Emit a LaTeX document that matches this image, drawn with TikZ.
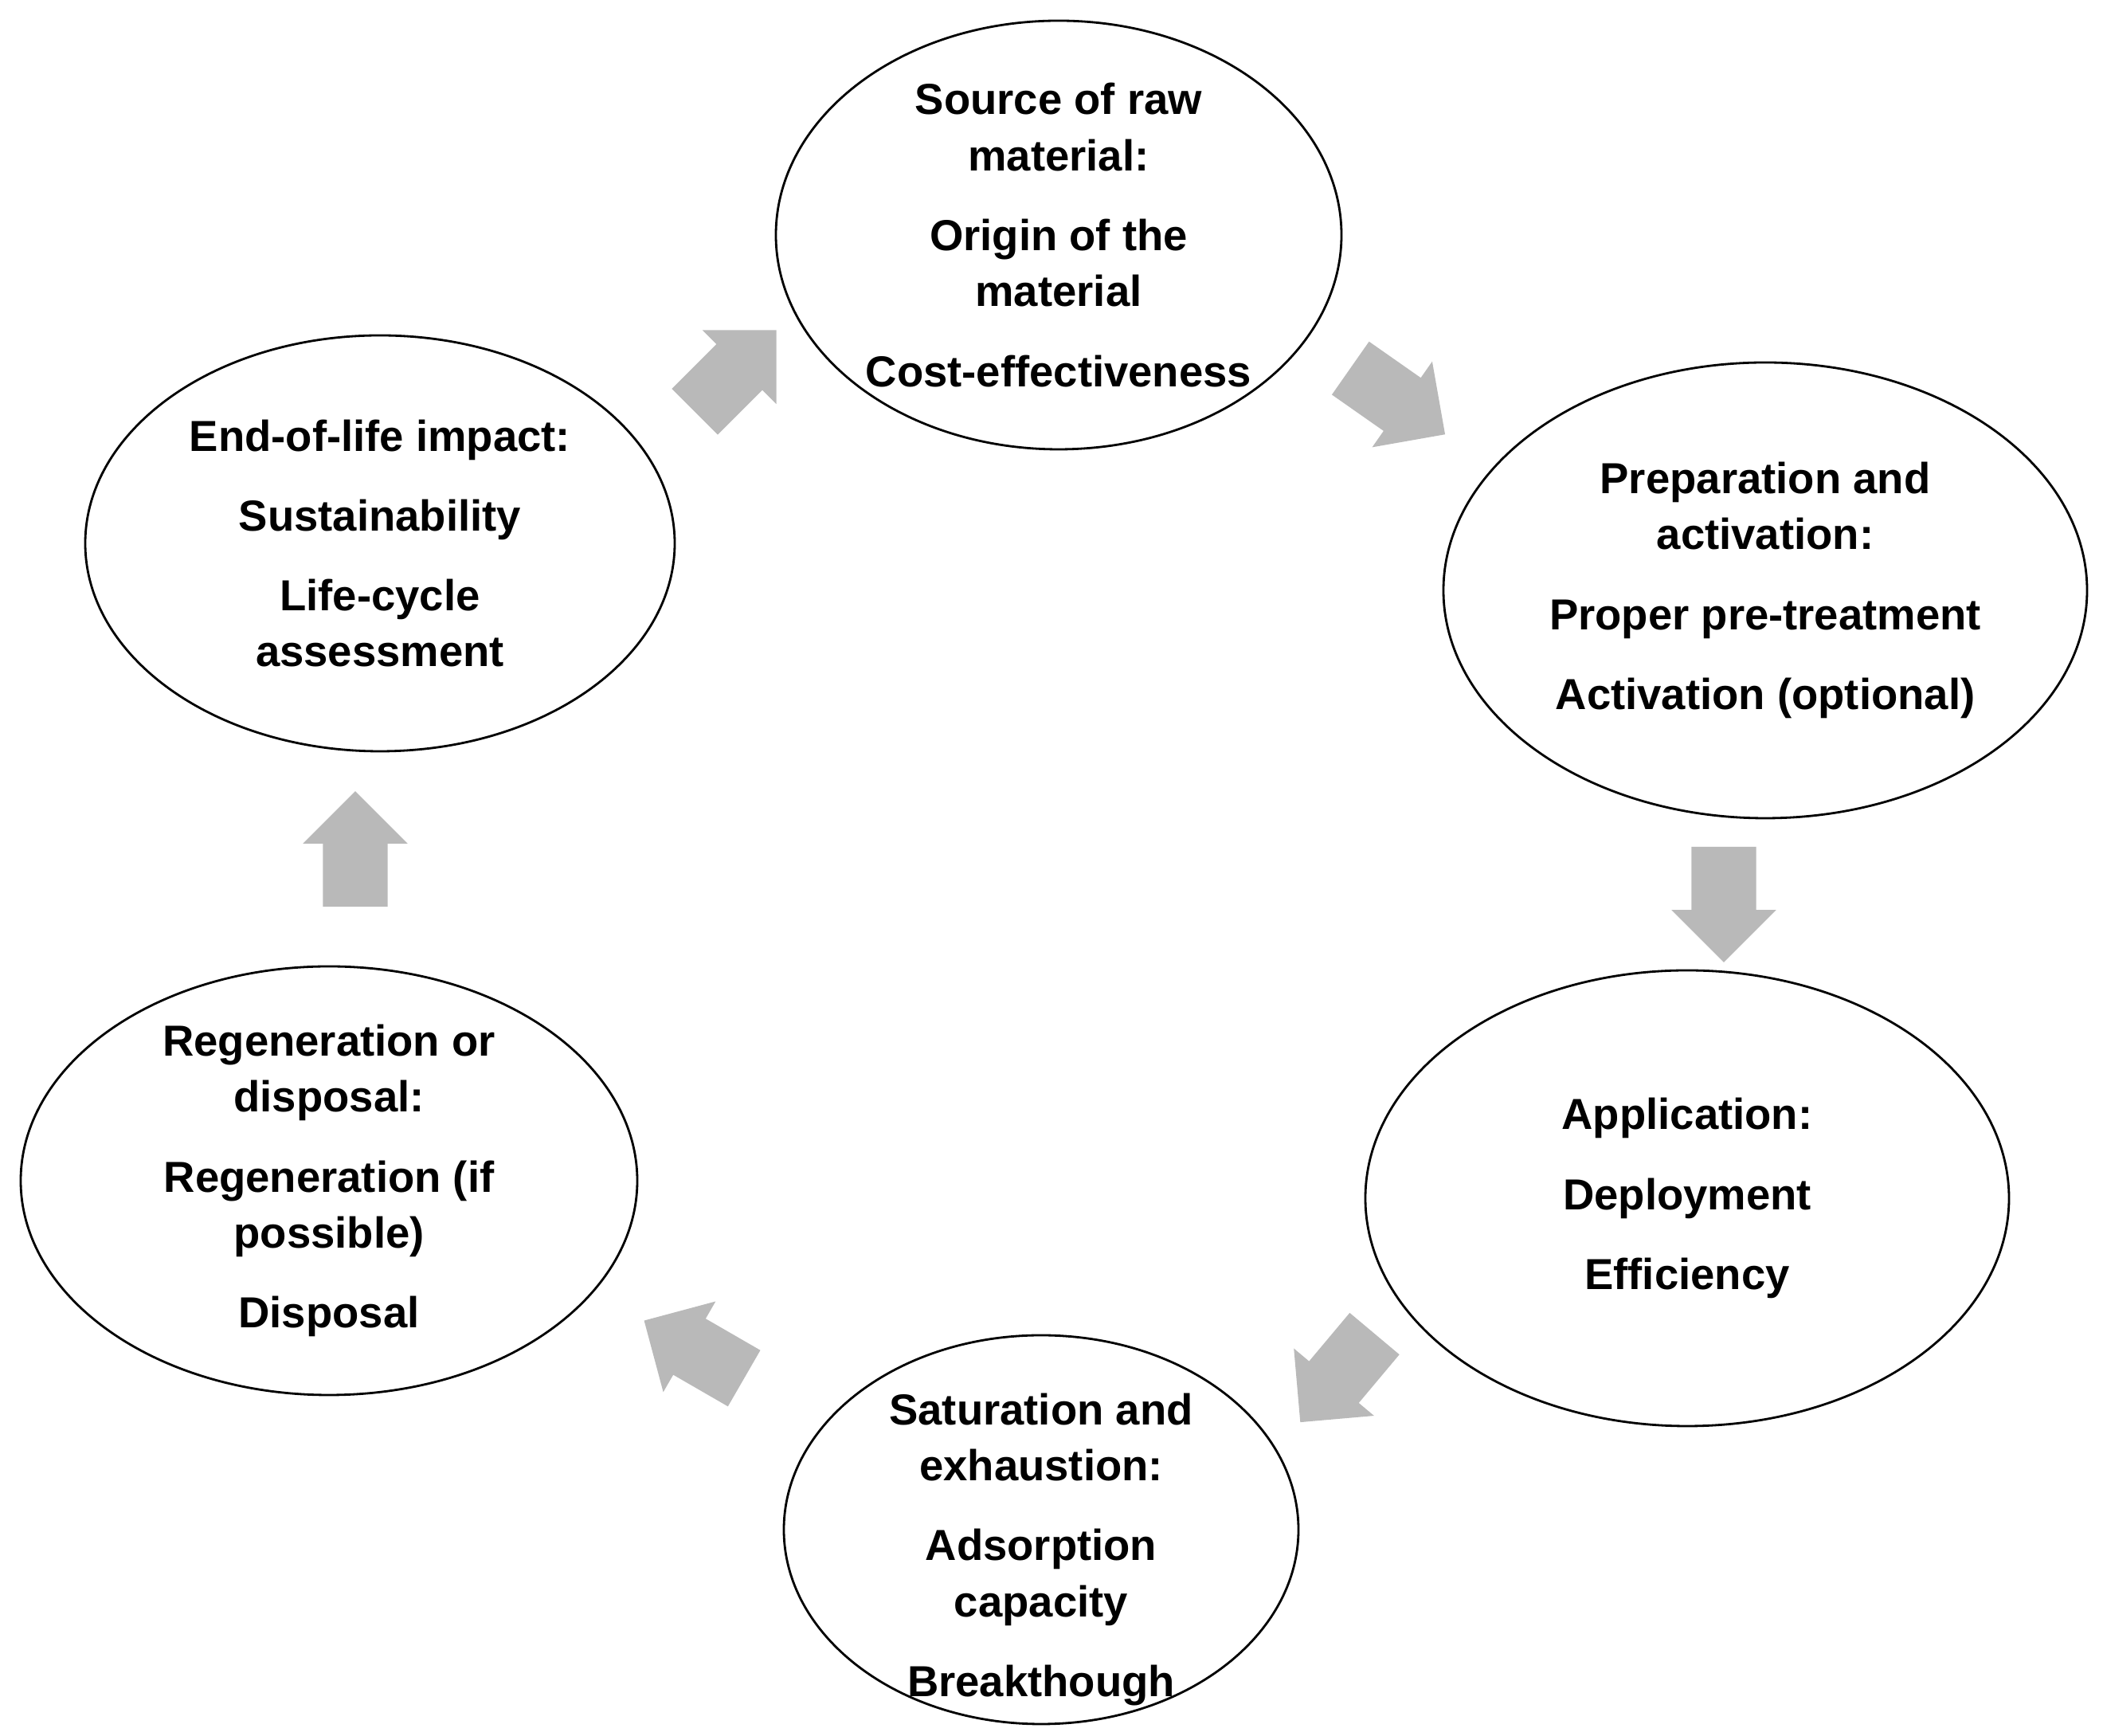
\documentclass[tikz,border=0pt]{standalone}
\usepackage{fontspec}
\setmainfont{Liberation Sans}
\usetikzlibrary{shapes.geometric,shapes.arrows}
\tikzset{
    stage/.style={draw, ellipse, inner sep=0pt, line width=0.8pt},
    stagetext/.style={align=center, font=\bfseries\fontsize{15.5}{20}\selectfont},
    flowarrow/.style={single arrow, fill=gray!55, draw=none, minimum height=1.45cm,
        inner xsep=0pt, inner ysep=0.4cm, single arrow head extend=0.25cm,
        single arrow head indent=0cm}
}
\begin{document}
\begin{tikzpicture}
    \useasboundingbox (0, 0) rectangle (26.4, 21.79);
    \node[stage, minimum width=7.1cm, minimum height=5.38cm] (raw) at (13.29, 18.84) {};
    \node[stage, minimum width=8.08cm, minimum height=5.72cm] (prep) at (22.16, 14.38) {};
    \node[stage, minimum width=8.08cm, minimum height=5.72cm] (app) at (21.18, 6.75) {};
    \node[stage, minimum width=6.46cm, minimum height=4.88cm] (sat) at (13.07, 2.59) {};
    \node[stage, minimum width=7.74cm, minimum height=5.38cm] (regen) at (4.13, 6.97) {};
    \node[stage, minimum width=7.4cm, minimum height=5.22cm] (eol) at (4.77, 14.97) {};
    \node[stagetext] at (raw) {Source of raw\\material:\\[0.3cm]Origin of the\\material\\[0.3cm]Cost-effectiveness};
    \node[stagetext] at (prep) {Preparation and\\activation:\\[0.3cm]Proper pre-treatment\\[0.3cm]Activation (optional)};
    \node[stagetext] at (app) {Application:\\[0.3cm]Deployment\\[0.3cm]Efficiency};
    \node[stagetext] at ([yshift=-0.25cm]sat) {Saturation and\\exhaustion:\\[0.3cm]Adsorption\\capacity\\[0.3cm]Breakthough};
    \node[stagetext] at (regen) {Regeneration or\\disposal:\\[0.3cm]Regeneration (if\\possible)\\[0.3cm]Disposal};
    \node[stagetext] at (eol) {End-of-life impact:\\[0.3cm]Sustainability\\[0.3cm]Life-cycle\\assessment};
    % block arrows between the stages
    \node[flowarrow, rotate=45] (s1) at (9.09, 16.99) {};
    \node[flowarrow, rotate=-35] (s2) at (17.38, 16.87) {};
    \node[flowarrow, rotate=-90] (s3) at (21.64, 10.64) {};
    \node[flowarrow, rotate=-130] (s4) at (16.92, 4.65) {};
    \node[flowarrow, rotate=150] (s5) at (8.89, 4.75) {};
    \node[flowarrow, rotate=90] (s6) at (4.46, 10.93) {};
\end{tikzpicture}
\end{document}
